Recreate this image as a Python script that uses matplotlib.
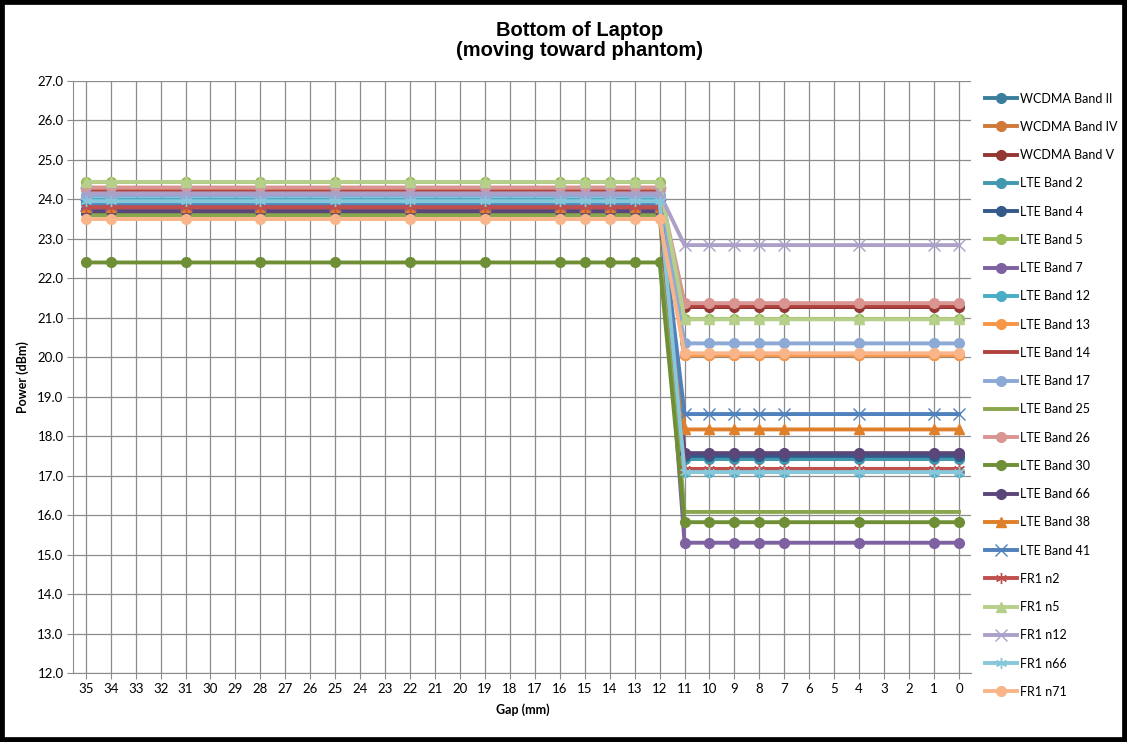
import matplotlib
matplotlib.use("Agg")
import matplotlib.pyplot as plt
from matplotlib.patches import Rectangle

gap_categories = list(range(35, -1, -1))
gaps = [35, 34, 31, 28, 25, 22, 19, 16, 15, 14, 13, 12, 11, 10, 9, 8, 7, 4, 1, 0]

series_names = ["WCDMA Band II", "WCDMA Band IV", "WCDMA Band V", "LTE Band 2", "LTE Band 4",
                "LTE Band 5", "LTE Band 7", "LTE Band 12", "LTE Band 13", "LTE Band 14",
                "LTE Band 17", "LTE Band 25", "LTE Band 26", "LTE Band 30", "LTE Band 66",
                "LTE Band 38", "LTE Band 41", "FR1 n2", "FR1 n5", "FR1 n12", "FR1 n66", "FR1 n71"]

wcdma_b2 = [23.90, 23.90, 23.90, 23.90, 23.90, 23.90, 23.90, 23.90, 23.90, 23.90, 23.90, 23.90, 17.45, 17.45, 17.45, 17.45, 17.45, 17.45, 17.45, 17.45]
wcdma_b4 = [24.25, 24.25, 24.25, 24.25, 24.25, 24.25, 24.25, 24.25, 24.25, 24.25, 24.25, 24.25, 20.05, 20.05, 20.05, 20.05, 20.05, 20.05, 20.05, 20.05]
wcdma_b5 = [23.70, 23.70, 23.70, 23.70, 23.70, 23.70, 23.70, 23.70, 23.70, 23.70, 23.70, 23.70, 21.27, 21.27, 21.27, 21.27, 21.27, 21.27, 21.27, 21.27]
lte_b2 = [23.90, 23.90, 23.90, 23.90, 23.90, 23.90, 23.90, 23.90, 23.90, 23.90, 23.90, 23.90, 17.42, 17.42, 17.42, 17.42, 17.42, 17.42, 17.42, 17.42]
lte_b4 = [23.65, 23.65, 23.65, 23.65, 23.65, 23.65, 23.65, 23.65, 23.65, 23.65, 23.65, 23.65, 17.50, 17.50, 17.50, 17.50, 17.50, 17.50, 17.50, 17.50]
lte_b5 = [24.44, 24.44, 24.44, 24.44, 24.44, 24.44, 24.44, 24.44, 24.44, 24.44, 24.44, 24.44, 20.97, 20.97, 20.97, 20.97, 20.97, 20.97, 20.97, 20.97]
lte_b7 = [23.75, 23.75, 23.75, 23.75, 23.75, 23.75, 23.75, 23.75, 23.75, 23.75, 23.75, 23.75, 15.30, 15.30, 15.30, 15.30, 15.30, 15.30, 15.30, 15.30]
lte_b12 = [24.00, 24.00, 24.00, 24.00, 24.00, 24.00, 24.00, 24.00, 24.00, 24.00, 24.00, 24.00, 17.10, 17.10, 17.10, 17.10, 17.10, 17.10, 17.10, 17.10]
lte_b13 = [24.25, 24.25, 24.25, 24.25, 24.25, 24.25, 24.25, 24.25, 24.25, 24.25, 24.25, 24.25, 20.05, 20.05, 20.05, 20.05, 20.05, 20.05, 20.05, 20.05]
lte_b14 = [24.20, 24.20, 24.20, 24.20, 24.20, 24.20, 24.20, 24.20, 24.20, 24.20, 24.20, 24.20, 21.30, 21.30, 21.30, 21.30, 21.30, 21.30, 21.30, 21.30]
lte_b17 = [24.10, 24.10, 24.10, 24.10, 24.10, 24.10, 24.10, 24.10, 24.10, 24.10, 24.10, 24.10, 20.35, 20.35, 20.35, 20.35, 20.35, 20.35, 20.35, 20.35]
lte_b25 = [23.60, 23.60, 23.60, 23.60, 23.60, 23.60, 23.60, 23.60, 23.60, 23.60, 23.60, 23.60, 16.08, 16.08, 16.08, 16.08, 16.08, 16.08, 16.08, 16.08]
lte_b26 = [24.30, 24.30, 24.30, 24.30, 24.30, 24.30, 24.30, 24.30, 24.30, 24.30, 24.30, 24.30, 21.37, 21.37, 21.37, 21.37, 21.37, 21.37, 21.37, 21.37]
lte_b30 = [22.40, 22.40, 22.40, 22.40, 22.40, 22.40, 22.40, 22.40, 22.40, 22.40, 22.40, 22.40, 15.82, 15.82, 15.82, 15.82, 15.82, 15.82, 15.82, 15.82]
lte_b66 = [23.70, 23.70, 23.70, 23.70, 23.70, 23.70, 23.70, 23.70, 23.70, 23.70, 23.70, 23.70, 17.57, 17.57, 17.57, 17.57, 17.57, 17.57, 17.57, 17.57]
lte_b38 = [23.80, 23.80, 23.80, 23.80, 23.80, 23.80, 23.80, 23.80, 23.80, 23.80, 23.80, 23.80, 18.17, 18.17, 18.17, 18.17, 18.17, 18.17, 18.17, 18.17]
lte_b41 = [23.85, 23.85, 23.85, 23.85, 23.85, 23.85, 23.85, 23.85, 23.85, 23.85, 23.85, 23.85, 18.56, 18.56, 18.56, 18.56, 18.56, 18.56, 18.56, 18.56]
fr1_n2 = [23.80, 23.80, 23.80, 23.80, 23.80, 23.80, 23.80, 23.80, 23.80, 23.80, 23.80, 23.80, 17.17, 17.17, 17.17, 17.17, 17.17, 17.17, 17.17, 17.17]
fr1_n5 = [24.44, 24.44, 24.44, 24.44, 24.44, 24.44, 24.44, 24.44, 24.44, 24.44, 24.44, 24.44, 20.96, 20.96, 20.96, 20.96, 20.96, 20.96, 20.96, 20.96]
fr1_n12 = [24.15, 24.15, 24.15, 24.15, 24.15, 24.15, 24.15, 24.15, 24.15, 24.15, 24.15, 24.15, 22.84, 22.84, 22.84, 22.84, 22.84, 22.84, 22.84, 22.84]
fr1_n66 = [23.95, 23.95, 23.95, 23.95, 23.95, 23.95, 23.95, 23.95, 23.95, 23.95, 23.95, 23.95, 17.09, 17.09, 17.09, 17.09, 17.09, 17.09, 17.09, 17.09]
fr1_n71 = [23.50, 23.50, 23.50, 23.50, 23.50, 23.50, 23.50, 23.50, 23.50, 23.50, 23.50, 23.50, 20.10, 20.10, 20.10, 20.10, 20.10, 20.10, 20.10, 20.10]

all_values = [wcdma_b2, wcdma_b4, wcdma_b5, lte_b2, lte_b4, lte_b5, lte_b7, lte_b12, lte_b13, lte_b14,
              lte_b17, lte_b25, lte_b26, lte_b30, lte_b66, lte_b38, lte_b41, fr1_n2, fr1_n5, fr1_n12,
              fr1_n66, fr1_n71]

colors = ["#3B7E9C", "#D07A3A", "#943634", "#4198AF", "#345A8A", "#9BBB59", "#7E61A0", "#4BACC6",
          "#F79646", "#B0433F", "#8DA9D6", "#8AA64F", "#D99592", "#6F8F36", "#5B4679", "#E07F2A",
          "#4F81BD", "#C0504D", "#B6D08C", "#ADA0C8", "#86C8DA", "#F9B589"]
markers = ["o", "o", "o", "o", "o", "o", "o", "o", "o", None, "o", None, "o", "o", "o",
           "^", "x", (6, 2, 0), "^", "x", (6, 2, 0), "o"]
ytick_vals = [12, 13, 14, 15, 16, 17, 18, 19, 20, 21, 22, 23, 24, 25, 26, 27]

plt.rcParams['font.family'] = ['Lato', 'DejaVu Sans']
fig = plt.figure(figsize=(11.27, 7.42), dpi=100)
ax = fig.add_axes([0.065, 0.093, 0.797, 0.798])

xpos = [gap_categories.index(g) for g in gaps]
handles = []
for name, vals, c, m in zip(series_names, all_values, colors, markers):
    kw = dict(color=c, lw=2.8, label=name, solid_joinstyle='round')
    if m is not None:
        big = m in ("x", (6, 2, 0))
        kw.update(marker=m, markersize=8 if big else 7, markerfacecolor=c, markeredgecolor=c,
                  markeredgewidth=1.0)
    h, = ax.plot(xpos, vals, **kw)
    handles.append(h)

ax.set_xlim(-0.5, len(gap_categories) - 0.5)
ax.set_ylim(12, 27)
ax.set_xticks(range(len(gap_categories)))
ax.set_xticklabels([str(g) for g in gap_categories], fontsize=9.5)
ax.set_yticks(ytick_vals)
ax.set_yticklabels([f"{v:.1f}" for v in ytick_vals], fontsize=9.5)
ax.grid(True, color="#8C8C8C", lw=0.9)
ax.set_axisbelow(True)
ax.tick_params(axis='both', length=4, color="#8C8C8C", pad=3)
for s in ["top", "right"]:
    ax.spines[s].set_visible(False)
for s in ["left", "bottom"]:
    ax.spines[s].set_color("#8C8C8C")
ax.set_xlabel("Gap (mm)", fontsize=9, fontweight="bold", labelpad=6)
ax.set_ylabel("Power (dBm)", fontsize=9, fontweight="bold", labelpad=6)

fig.text(0.514, 0.972, "Bottom of Laptop\n(moving toward phantom)", ha="center", va="top",
         fontsize=14.5, fontweight="bold", family="Liberation Sans", linespacing=1.1)

fig.legend(handles=handles, loc="upper left", bbox_to_anchor=(0.8696, 0.882), frameon=False,
           fontsize=9, handlelength=2.56, labelspacing=1.30, handletextpad=0.25, borderaxespad=0)

fig.add_artist(Rectangle((0.0, 0.0), 1.0, 1.0, transform=fig.transFigure, fill=False,
                         edgecolor="black", lw=7))
fig.savefig("out.png", dpi=100)
